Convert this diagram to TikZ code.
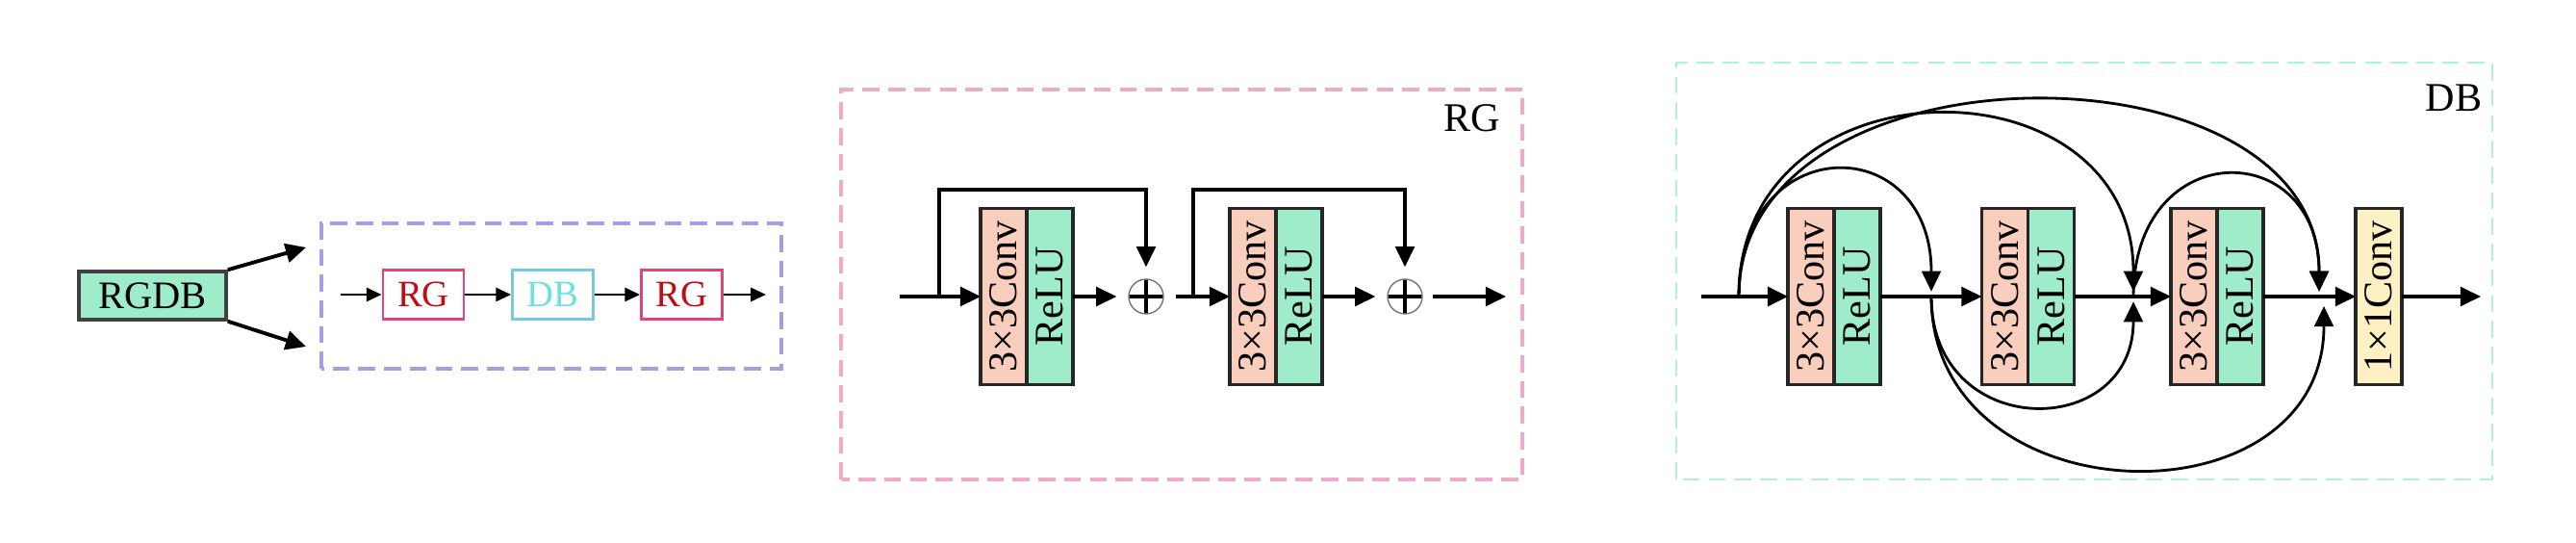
\documentclass[tikz,border=0pt]{standalone}
\usepackage{fontspec}
\setmainfont{Liberation Serif}
\usepackage{graphicx}
\usetikzlibrary{arrows.meta,positioning}
\definecolor{blockpeach}{RGB}{250,206,188}
\definecolor{blockgreen}{RGB}{158,236,202}
\definecolor{blockyellow}{RGB}{253,240,195}
\definecolor{framelilac}{RGB}{168,156,228}
\definecolor{framepink}{RGB}{238,172,200}
\definecolor{framemint}{RGB}{178,240,222}
\definecolor{rgred}{RGB}{196,10,20}
\definecolor{rgedge}{RGB}{222,70,120}
\definecolor{dbcyan}{RGB}{110,224,230}
\definecolor{dbedge}{RGB}{120,200,225}

\begin{document}
\begin{tikzpicture}[line join=miter,
 font=\fontsize{12}{14}\selectfont,
 tip/.style={-{Triangle[length=6pt,width=5.6pt]},line width=.9pt},
 smalltip/.style={-{Triangle[length=4.5pt,width=4pt]},line width=.8pt},
 frame/.style={dash pattern=on 5pt off 2.6pt,line width=1pt},
 convbox/.style={draw=black!85,line width=.9pt,fill=blockpeach,minimum width=.48cm,
  minimum height=1.83cm,inner sep=0pt,outer sep=0pt},
 relubox/.style={convbox,fill=blockgreen},
 minibox/.style={draw,line width=.8pt,fill=white,minimum width=.84cm,minimum height=.51cm,
  inner sep=0pt,font=\fontsize{11}{13}\selectfont},
 sumnode/.style={circle,draw=black!55,thin,minimum size=.36cm,inner sep=0pt,
  path picture={\draw[line width=1pt,black]
   (path picture bounding box.north) -- (path picture bounding box.south)
   (path picture bounding box.west) -- (path picture bounding box.east);}}]
\useasboundingbox (0,0) rectangle (26.77,5.63);
% Lewa część: RGDB i jego rozwinięcie.
\node[draw=black!75,line width=1pt,fill=blockgreen,minimum width=1.53cm,minimum height=.5cm,
 inner sep=0pt,font=\fontsize{11.5}{13}\selectfont] (rgdb) at (1.585,2.56) {RGDB};
\coordinate (rgdbup) at (3.18,3.06);
\coordinate (rgdbdn) at (3.18,2.03);
\draw[tip,line width=1.1pt] (rgdb.north east) -- (rgdbup);
\draw[tip,line width=1.1pt] (rgdb.south east) -- (rgdbdn);
\draw[frame,framelilac] (3.34,1.80) rectangle (8.12,3.31);
\coordinate (chin) at (3.54,2.57);
\coordinate (chout) at (7.96,2.57);
\node[minibox,draw=rgedge,text=rgred] (rga) at (4.40,2.57) {RG};
\node[minibox,draw=dbedge,text=dbcyan] (dba) at (5.745,2.57) {DB};
\node[minibox,draw=rgedge,text=rgred] (rgb) at (7.085,2.57) {RG};
\draw[smalltip] (chin) -- (rga);
\draw[smalltip] (rga) -- (dba);
\draw[smalltip] (dba) -- (rgb);
\draw[smalltip] (rgb) -- (chout);
% Środek: blok RG z dwoma połączeniami resztkowymi.
\draw[frame,framepink] (8.74,.65) rectangle (15.82,4.70);
\node at (15.30,4.40) {RG};
\coordinate (rgin) at (9.35,2.55);
\coordinate (rgbr1) at (9.76,2.55);
\coordinate (rgbr2) at (12.40,2.55);
\coordinate (rgout) at (15.65,2.55);
\node[convbox] (rc1) at (10.43,2.55) {\rotatebox{90}{3×3Conv}};
\node[relubox,right=0pt of rc1] (rr1) {\rotatebox{90}{ReLU}};
\node[sumnode] (rs1) at (11.91,2.55) {};
\node[convbox] (rc2) at (13.02,2.55) {\rotatebox{90}{3×3Conv}};
\node[relubox,right=0pt of rc2] (rr2) {\rotatebox{90}{ReLU}};
\node[sumnode] (rs2) at (14.60,2.55) {};
\draw[tip,line width=1.1pt] (rgin) -- (rc1);
\draw[tip,shorten >=.12cm] (rr1) -- (rs1);
\draw[tip,shorten <=.12cm] (rs1) -- (rc2);
\draw[tip,shorten >=.12cm] (rr2) -- (rs2);
\draw[tip,shorten <=.1cm] (rs2) -- (rgout);
\draw[tip,shorten >=.12cm] (rgbr1) -- ++(0,1.11) -| (rs1);
\draw[tip,shorten >=.12cm] (rgbr2) -- ++(0,1.11) -| (rs2);
% Prawa część: blok DB z gęstymi połączeniami.
\draw[frame,framemint,line width=.8pt] (17.42,.65) rectangle (25.90,4.98);
\node at (25.50,4.61) {DB};
\coordinate (dbin) at (17.68,2.55);
\coordinate (dj0) at (18.07,2.55);
\coordinate (dj1) at (20.07,2.55);
\coordinate (dj2) at (22.17,2.55);
\coordinate (dj3) at (24.10,2.55);
\coordinate (dj3b) at (24.15,2.45);
\coordinate (dbout) at (25.78,2.55);
\node[convbox] (dc1) at (18.82,2.55) {\rotatebox{90}{3×3Conv}};
\node[relubox,right=0pt of dc1] (dr1) {\rotatebox{90}{ReLU}};
\node[convbox] (dc2) at (20.835,2.55) {\rotatebox{90}{3×3Conv}};
\node[relubox,right=0pt of dc2] (dr2) {\rotatebox{90}{ReLU}};
\node[convbox] (dc3) at (22.80,2.55) {\rotatebox{90}{3×3Conv}};
\node[relubox,right=0pt of dc3] (dr3) {\rotatebox{90}{ReLU}};
\node[convbox,fill=blockyellow] (dk) at (24.72,2.55) {\rotatebox{90}{1×1Conv}};
\draw[tip,line width=1.1pt] (dbin) -- (dc1);
\draw[tip] (dr1) -- (dc2);
\draw[tip] (dr2) -- (dc3);
\draw[tip] (dr3) -- (dk);
\draw[tip] (dk) -- (dbout);
% Łuki nad i pod osią.
\draw[tip,line width=.8pt,shorten >=1.5pt] (dj0) to[out=90,in=90,looseness=2.23] (dj1);
\draw[tip,line width=.8pt,shorten >=1.5pt] (dj0) to[out=90,in=90,looseness=1.57] (dj2);
\draw[tip,line width=.8pt,shorten >=1.5pt] (dj0) to[out=90,in=90,looseness=1.15] (dj3);
\draw[tip,line width=.8pt,shorten >=1.5pt] (dj2) to[out=90,in=90,looseness=2.22] (dj3);
\draw[tip,line width=.8pt,shorten >=1.5pt] (dj1) to[out=-90,in=-90,looseness=1.84] (dj2);
\draw[tip,line width=.8pt] (dj1) to[out=-90,in=-90,looseness=1.45] (dj3b);
\end{tikzpicture}
\end{document}
